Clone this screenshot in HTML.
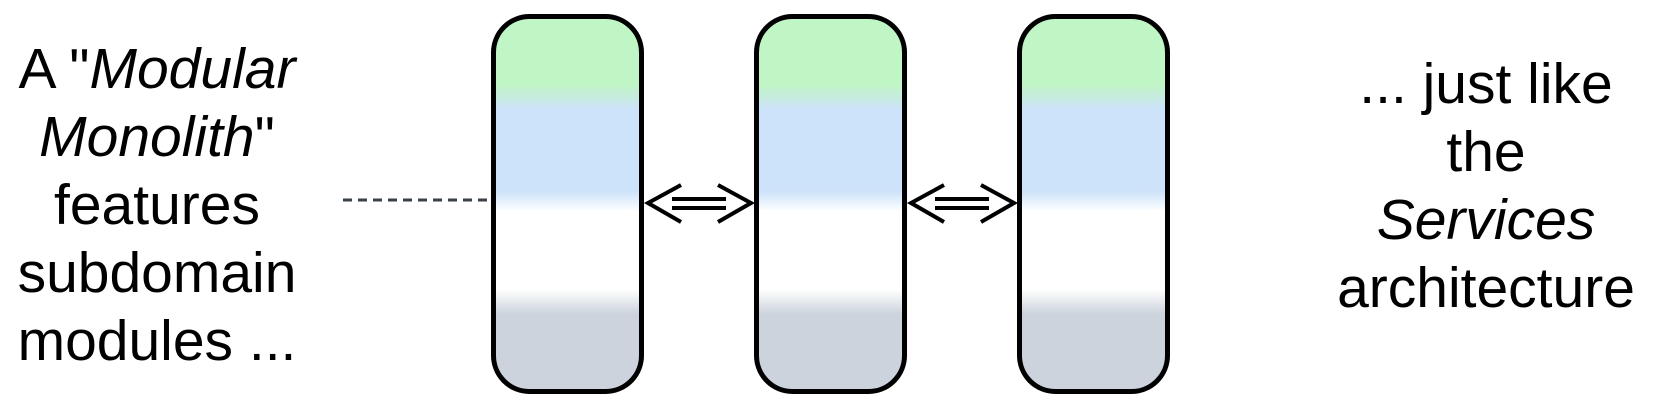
<!DOCTYPE html>
<html><head><meta charset="utf-8"><style>
html,body{margin:0;padding:0;background:#fff;}
body{width:1658px;height:411px;overflow:hidden;position:relative;}
</style></head><body>
<svg width="1658" height="411" xmlns="http://www.w3.org/2000/svg" style="position:absolute;left:0;top:0">
<defs>
<linearGradient id="g" x1="0" y1="14" x2="0" y2="394" gradientUnits="userSpaceOnUse">
<stop offset="0" stop-color="#c0f5c5"/>
<stop offset="0.187" stop-color="#c0f5c5"/>
<stop offset="0.25" stop-color="#cde3fa"/>
<stop offset="0.467" stop-color="#cde3fa"/>
<stop offset="0.52" stop-color="#ffffff"/>
<stop offset="0.725" stop-color="#ffffff"/>
<stop offset="0.79" stop-color="#ccd3dc"/>
<stop offset="1" stop-color="#ccd3dc"/>
</linearGradient>
</defs>
<line x1="343" y1="200" x2="491" y2="200" stroke="#3a404a" stroke-width="3" stroke-dasharray="9,6"/>
<rect x="493.5" y="16.5" width="148" height="375" rx="36" fill="url(#g)" stroke="#000" stroke-width="5"/>
<rect x="756.5" y="16.5" width="148" height="375" rx="36" fill="url(#g)" stroke="#000" stroke-width="5"/>
<rect x="1019.5" y="16.5" width="148" height="375" rx="36" fill="url(#g)" stroke="#000" stroke-width="5"/>
<g stroke="#000" stroke-width="4" fill="none">
<polyline points="681,185 648,203 681,222"/>
<polyline points="718,185 751,203 718,222"/>
<line x1="672" y1="199" x2="726" y2="199"/>
<line x1="672" y1="208" x2="726" y2="208"/>
<polyline points="944,185 911,203 944,222"/>
<polyline points="981,185 1014,203 981,222"/>
<line x1="935" y1="199" x2="989" y2="199"/>
<line x1="935" y1="208" x2="989" y2="208"/>
</g>
<g font-family="Liberation Sans, sans-serif" font-size="57" text-anchor="middle" fill="#000">
<text x="157" y="88">A "<tspan font-style="italic">Modular</tspan></text>
<text x="157" y="156"><tspan font-style="italic">Monolith</tspan>"</text>
<text x="157" y="224">features</text>
<text x="157" y="292">subdomain</text>
<text x="157" y="360">modules ...</text>
<text x="1486" y="103">... just like</text>
<text x="1486" y="171">the</text>
<text x="1486" y="239"><tspan font-style="italic">Services</tspan></text>
<text x="1486" y="307">architecture</text>
</g>
</svg>
</body></html>
